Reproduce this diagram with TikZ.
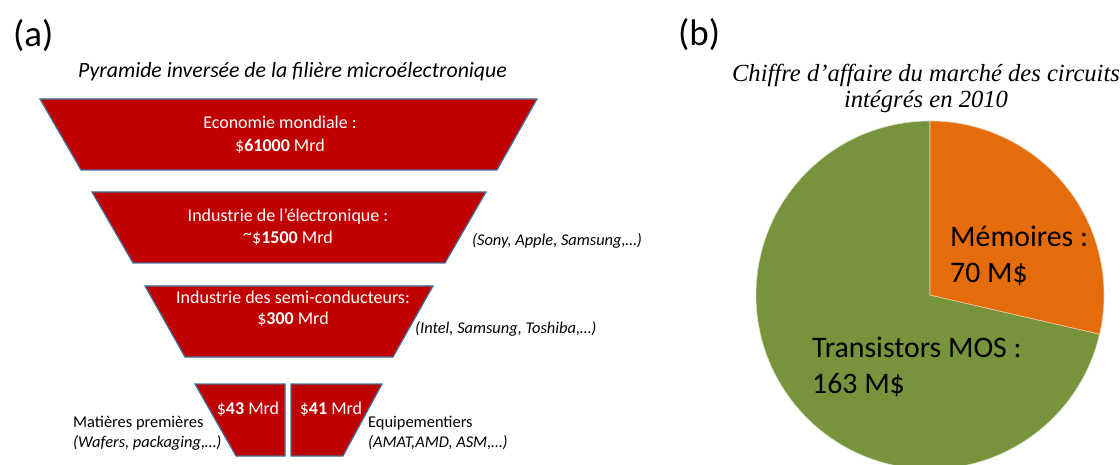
\documentclass[tikz,border=0pt]{standalone}
\usepackage{fontspec}
\setmainfont{Carlito}
\newfontfamily\titlefont{Liberation Serif}
\usepackage{tikz}
\usetikzlibrary{calc,positioning}
\definecolor{slabRed}{HTML}{C00000}
\definecolor{slabBorder}{HTML}{41719C}
\definecolor{memOrange}{HTML}{E46C0A}
\definecolor{mosGreen}{HTML}{77933C}
\tikzstyle{Slab} = [draw=slabBorder, fill=slabRed, line width=1.2pt]
\tikzstyle{SlabText} = [anchor=base, inner sep=0, text=white,
    font=\fontsize{18}{22}\selectfont]
\tikzstyle{SideNote} = [anchor=base west, inner sep=0,
    font=\fontsize{16.4}{20}\selectfont]
\tikzstyle{PieText} = [anchor=base west, inner sep=0,
    font=\fontsize{29.8}{36}\selectfont]
\tikzstyle{PanelTag} = [anchor=base west, inner sep=0,
    font=\fontsize{37}{44}\selectfont]

\begin{document}
\begin{tikzpicture}[x=1pt, y=-1pt]
        \useasboundingbox (0,0) rectangle (1120,465);
        % (a) inverted pyramid
        \node[PanelTag] (TagA) at (13,47) {(a)};
        \node[anchor=base, inner sep=0, font=\fontsize{21.8}{26}\selectfont\itshape] (PyramidTitle) at (292.5,78)
            {Pyramide inversée de la filière microélectronique};
        \filldraw[Slab] (40,99) -- (537,99) -- (497,170) -- (81,170) -- cycle; %world economy
        \filldraw[Slab] (92,192) -- (486,192) -- (445,263) -- (133,263) -- cycle; %electronics
        \filldraw[Slab] (145,286) -- (433,286) -- (393,357) -- (185,357) -- cycle; %semiconductors
        \filldraw[Slab] (195,384) -- (285,384) -- (285,456) -- (236,456) -- cycle; %raw materials
        \filldraw[Slab] (291,384) -- (382,384) -- (343,456) -- (291,456) -- cycle; %equipment
        \node[SlabText] (EcoName) at (280,129) {Economie mondiale :};
        \node[SlabText] (EcoValue) at (280,152) {\$\textbf{61000} Mrd};
        \node[SlabText] (ElecName) at (288,222) {Industrie de l’électronique :};
        \node[SlabText] (ElecValue) at (288,244) {\raisebox{0.25em}{\textasciitilde}\$\textbf{1500} Mrd};
        \node[SlabText] (SemiName) at (293,304) {Industrie des semi-conducteurs:};
        \node[SlabText] (SemiValue) at (293,325) {\$\textbf{300} Mrd};
        \node[SlabText] (RawValue) at (248,414) {\$\textbf{43} Mrd};
        \node[SlabText] (EquipValue) at (331,414) {\$\textbf{41} Mrd};
        \node[SideNote] (ElecNote) at (472,246) {\itshape (Sony, Apple, Samsung,…)};
        \node[SideNote] (SemiNote) at (415,334) {\itshape (Intel, Samsung, Toshiba,…)};
        \node[SideNote] (RawName) at (73,427) {Matières premières};
        \node[SideNote] (RawNote) at (73,447) {\itshape (Wafers, packaging,…)};
        \node[SideNote] (EquipName) at (368,427) {Equipementiers};
        \node[SideNote] (EquipNote) at (368,447) {\itshape (AMAT,AMD, ASM,…)};
        % (b) pie chart
        \node[PanelTag] (TagB) at (678,46) {(b)};
        \node[anchor=base, inner sep=0, font=\fontsize{24.6}{27}\selectfont\titlefont\itshape] (PieTitle) at (926,82)
            {Chiffre d’affaire du marché des circuits};
        \node[anchor=base, inner sep=0, font=\fontsize{24.6}{27}\selectfont\titlefont\itshape] (PieTitleB) at (926,108)
            {intégrés en 2010};
        \coordinate (PieCenter) at (930,295);
        \begin{scope}[shift={(PieCenter)}, y=1pt]
            \filldraw[fill=mosGreen, draw=white!70!mosGreen, line width=0.6pt]
                (0,0) -- (90:174) arc[start angle=90, end angle=347, radius=174pt] -- cycle; %MOS
            \filldraw[fill=memOrange, draw=white!60!memOrange, line width=0.6pt]
                (0,0) -- (90:174) arc[start angle=90, end angle=-13, radius=174pt] -- cycle; %memories
        \end{scope}
        \node[PieText] (MemName) at (950,247) {Mémoires :};
        \node[PieText] (MemValue) at (950,283) {70 M\$};
        \node[PieText] (MosName) at (812,357) {Transistors MOS :};
        \node[PieText] (MosValue) at (812,393) {163 M\$};
    \end{tikzpicture}
\end{document}
